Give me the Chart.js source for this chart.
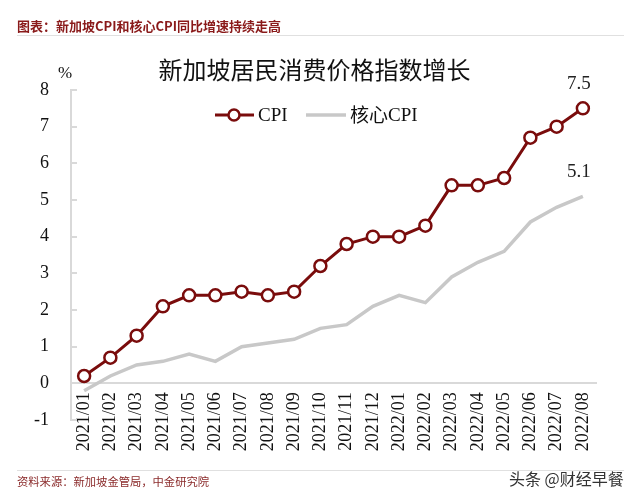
<!DOCTYPE html>
<html>
<head>
<meta charset="utf-8">
<script src="https://cdn.jsdelivr.net/npm/chart.js@4/dist/chart.umd.min.js"></script>
<style>
  html, body { margin: 0; padding: 0; background: #fff; }
  #wrap { position: relative; width: 640px; height: 497px; overflow: hidden; background: #fff; }
  #c { position: absolute; left: 0; top: 0; }
  .hdr { position: absolute; left: 17px; top: 16px; font: bold 13px "Noto Sans CJK SC", "Noto Sans", sans-serif; color: #8a1a1a; white-space: nowrap; }
  .rule { position: absolute; left: 17px; width: 607px; height: 0; border-top: 1.5px solid #e0e0e0; }
  .title { position: absolute; left: 0; width: 629px; top: 51px; text-align: center; font: 24px "Noto Sans CJK SC", sans-serif; color: #111; white-space: nowrap; }
  .ftr { position: absolute; left: 17px; top: 473px; font: 11.3px "Noto Sans CJK SC", sans-serif; color: #8a2a2a; white-space: nowrap; }
  .wm { position: absolute; left: 509px; top: 466px; font: 16px "Noto Sans CJK SC", sans-serif; color: #333; white-space: nowrap;
        text-shadow: 0 0 2px #fff, 0 0 2px #fff; }
</style>
</head>
<body>
<div id="wrap">
  <canvas id="c" width="640" height="497"></canvas>
  <div class="hdr">图表：新加坡CPI和核心CPI同比增速持续走高</div>
  <div class="rule" style="top:35px"></div>
  <div class="title">新加坡居民消费价格指数增长</div>
  <div class="rule" style="top:470px"></div>
  <div class="ftr">资料来源：新加坡金管局，中金研究院</div>
  <div class="wm">头条 @财经早餐</div>
</div>
<script>
const months = ["2021/01","2021/02","2021/03","2021/04","2021/05","2021/06","2021/07","2021/08","2021/09","2021/10",
                "2021/11","2021/12","2022/01","2022/02","2022/03","2022/04","2022/05","2022/06","2022/07","2022/08"];
const cpi  = [0.2, 0.7, 1.3, 2.1, 2.4, 2.4, 2.5, 2.4, 2.5, 3.2, 3.8, 4.0, 4.0, 4.3, 5.4, 5.4, 5.6, 6.7, 7.0, 7.5];
const core = [-0.2, 0.2, 0.5, 0.6, 0.8, 0.6, 1.0, 1.1, 1.2, 1.5, 1.6, 2.1, 2.4, 2.2, 2.9, 3.3, 3.6, 4.4, 4.8, 5.1];
const seriesNames = ["CPI", "核心CPI"];
const yMin = -1, yMax = 8;
const unitLabel = "%";

const RED = "#7a0c0c";
const GREY = "#c8c8c8";
const AXIS = "#d9d9d9";
const SERIF = '"Liberation Serif", "Times New Roman", serif';

const extras = {
  id: "extras",
  afterDraw(chart) {
    const ctx = chart.ctx;
    const y = chart.scales.y;
    ctx.save();
    // inward ticks on y axis
    ctx.strokeStyle = AXIS; ctx.lineWidth = 2;
    for (let v = yMin; v <= yMax; v++) {
      const py = Math.round(y.getPixelForValue(v));
      ctx.beginPath(); ctx.moveTo(chart.chartArea.left, py); ctx.lineTo(chart.chartArea.left + 6, py); ctx.stroke();
    }
    // unit label
    ctx.fillStyle = "#111";
    ctx.font = "17px " + SERIF;
    ctx.textAlign = "center"; ctx.textBaseline = "middle";
    ctx.fillText(unitLabel, 65, 74);
    // end value labels
    ctx.font = "19px " + SERIF;
    ctx.fillStyle = "#222";
    const mCore = chart.getDatasetMeta(0).data, mCpi = chart.getDatasetMeta(1).data;
    const pCpi = mCpi[mCpi.length - 1], pCore = mCore[mCore.length - 1];
    ctx.fillText(cpi[cpi.length - 1].toFixed(1), pCpi.x - 4, pCpi.y - 24);
    ctx.fillText(core[core.length - 1].toFixed(1), pCore.x - 4, pCore.y - 24);
    // legend
    const ly = 115;
    ctx.lineWidth = 3;
    ctx.strokeStyle = RED;
    ctx.beginPath(); ctx.moveTo(215, ly); ctx.lineTo(254, ly); ctx.stroke();
    ctx.beginPath(); ctx.arc(234, ly, 5.5, 0, Math.PI * 2);
    ctx.fillStyle = "#fff"; ctx.fill(); ctx.lineWidth = 2.5; ctx.stroke();
    ctx.strokeStyle = GREY; ctx.lineWidth = 3.5;
    ctx.beginPath(); ctx.moveTo(306, ly); ctx.lineTo(346, ly); ctx.stroke();
    ctx.fillStyle = "#111";
    ctx.textAlign = "left";
    ctx.font = "19px " + SERIF;
    ctx.fillText(seriesNames[0], 258, ly + 1);
    ctx.font = '19px "Noto Sans CJK SC", ' + SERIF;
    const w = ctx.measureText("核心").width;
    ctx.fillText("核心", 350, ly);
    ctx.font = "19px " + SERIF;
    ctx.fillText("CPI", 350 + w, ly + 1);
    ctx.restore();
  }
};

new Chart(document.getElementById("c"), {
  type: "line",
  data: {
    labels: months,
    datasets: [
      { label: seriesNames[1], data: core, borderColor: GREY, borderWidth: 3.5, pointRadius: 0, tension: 0, order: 2 },
      { label: seriesNames[0], data: cpi, borderColor: RED, borderWidth: 3, pointRadius: 6, pointBorderWidth: 2.5,
        pointBackgroundColor: "#fff", pointBorderColor: RED, tension: 0, order: 1 }
    ]
  },
  options: {
    responsive: false,
    animation: false,
    events: [],
    layout: { padding: { top: 90, bottom: 77, right: 44, left: 0 } },
    plugins: { legend: { display: false }, tooltip: { enabled: false }, title: { display: false } },
    scales: {
      x: {
        type: "category",
        offset: true,
        position: { y: 0 },
        grid: { display: false, drawTicks: false },
        border: { display: true, color: AXIS, width: 2 },
        ticks: { autoSkip: false, minRotation: 90, maxRotation: 90, padding: 9, color: "#111",
                 font: { family: SERIF, size: 18 } }
      },
      y: {
        min: yMin, max: yMax,
        afterFit(scale) { scale.width = 71; },
        grid: { display: false, drawTicks: false },
        border: { display: true, color: AXIS, width: 2 },
        ticks: { stepSize: 1, padding: 22, color: "#111", font: { family: SERIF, size: 18 } }
      }
    }
  },
  plugins: [extras]
});
</script>
</body>
</html>
